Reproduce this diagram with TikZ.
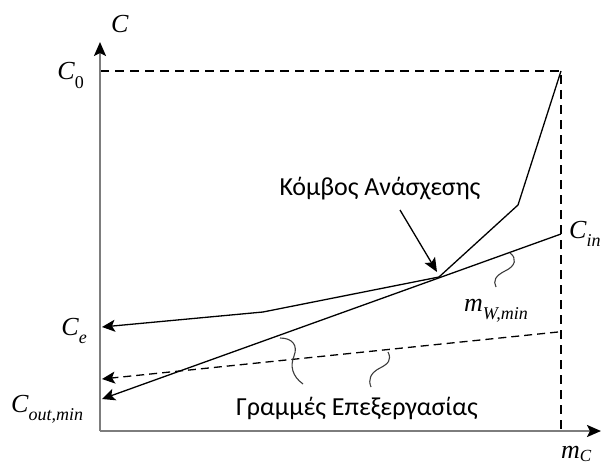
\documentclass[tikz,border=0pt]{standalone}
\usepackage{fontspec}
\setmainfont{Liberation Serif}
\newfontfamily\greekfont{Carlito}
\usetikzlibrary{arrows.meta}

% lowered subscript for the italic labels
\newcommand\lowsub[1]{\raisebox{-0.32em}{\fontsize{18}{18}\selectfont #1}}
\newcommand\shallowsub[1]{\raisebox{-0.15em}{\fontsize{17}{17}\selectfont #1}}

\definecolor{axisgray}{RGB}{125,125,125}
\definecolor{wiggle}{RGB}{60,60,60}

\tikzset{
  axisline/.style={draw=axisgray, line width=2.2pt,
    -{Stealth[length=14pt,width=12pt,inset=3pt,color=black]}},
  curve/.style={draw=black, line width=1.3pt},
  curvearrow/.style={curve, -{Stealth[length=13pt,width=12pt,inset=3pt]}},
  dashline/.style={draw=black, line width=1.3pt, dash pattern=on 8pt off 5pt},
  guide/.style={draw=black, line width=1.3pt, dash pattern=on 9pt off 6pt},
  brace/.style={draw=wiggle, line width=1.1pt},
  mlabel/.style={inner sep=0pt, font=\fontsize{26}{26}\selectfont\itshape},
  glabel/.style={inner sep=0pt, font=\greekfont\fontsize{26}{26}\selectfont},
}

\begin{document}
\begin{tikzpicture}[x=1pt,y=-1pt]
  \useasboundingbox (0,0) rectangle (601,468);

  % reference points
  \coordinate (origin) at (100,431);
  \coordinate (ytip)   at (100,42);
  \coordinate (xtip)   at (601,431);
  \coordinate (c0)     at (100,71);
  \coordinate (corner) at (561,71);
  \coordinate (xmark)  at (561,431);
  \coordinate (bend)   at (518,205);
  \coordinate (pinch)  at (439,277);
  \coordinate (knee)   at (263,312);
  \coordinate (ce)     at (102,327);
  \coordinate (cin)    at (561,234);
  \coordinate (cout)   at (102,399);
  \coordinate (dstart) at (558,332);
  \coordinate (dend)   at (102,379);
  \coordinate (ptail)  at (400,210);
  \coordinate (phead)  at (437,272);

  % guide lines
  \draw[guide] (c0) -- (corner) -- (xmark);

  % axes
  \draw[axisline] (origin) -- (ytip);
  \draw[axisline] (origin) -- (xtip);

  % composite curve
  \draw[curvearrow] (corner) -- (bend) -- (pinch) -- (knee) -- (ce);
  % minimum water line
  \draw[curvearrow] (cin) -- (cout);
  % process line
  \draw[dashline, -{Stealth[length=13pt,width=12pt,inset=3pt]}] (dstart) -- (dend);

  % pinch pointer
  \draw[curve, -{Stealth[length=14pt,width=12pt,inset=3pt]}] (ptail) -- (phead);

  % wiggly leaders
  \draw[brace] (510,253) .. controls (517,258) and (516,266) .. (505,271)
               .. controls (495,276) and (493,281) .. (496,287);
  \draw[brace] (280,338) .. controls (293,338) and (298,346) .. (294,356)
               .. controls (290,366) and (292,376) .. (303,384);
  \draw[brace] (388,352) .. controls (392,360) and (388,364) .. (380,368)
               .. controls (370,373) and (368,380) .. (371,387);

  % labels
  \node[mlabel, anchor=base west] (lc)    at (111,33)  {C};
  \node[mlabel, anchor=base east] (lc0)   at (84,80)   {C\lowsub{\upshape 0}};
  \node[mlabel, anchor=base east] (lce)   at (87,335)  {C\lowsub{e}};
  \node[mlabel, anchor=base west] (lcout) at (11,412)  {C\lowsub{out,min}};
  \node[mlabel, anchor=base west] (lcin)  at (569,238) {C\lowsub{in}};
  \node[mlabel, anchor=base west] (lmw)   at (464,311) {m\lowsub{W,min}};
  \node[mlabel, anchor=base west] (lmc)   at (561,458) {m\shallowsub{C}};

  \node[glabel, anchor=base] (lpinch) at (380,195) {Κόμβος Ανάσχεσης};
  \node[glabel, anchor=base] (lproc)  at (357,415) {Γραμμές Επεξεργασίας};
\end{tikzpicture}
\end{document}
